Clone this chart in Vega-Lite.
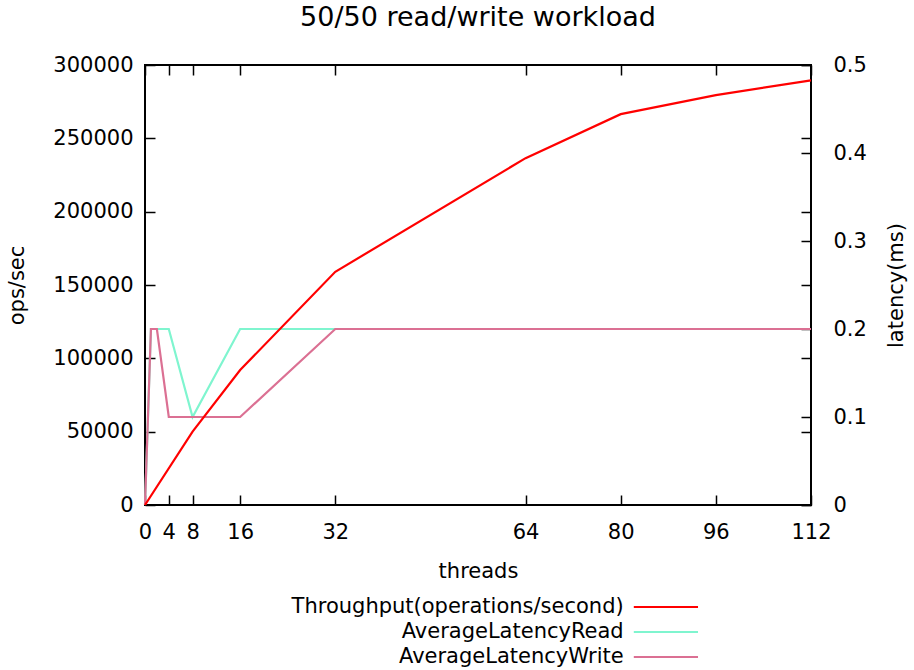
{
  "$schema": "https://vega.github.io/schema/vega-lite/v6.json",
  "width": 666,
  "height": 440,
  "padding": {"left": 6, "top": 4, "right": 5, "bottom": 5},
  "title": {"text": "50/50 read/write workload", "fontSize": 27, "font": "DejaVu Sans", "fontWeight": "normal", "color": "black", "offset": 22},
  "config": {
    "view": {"stroke": "black", "strokeWidth": 2},
    "font": "DejaVu Sans",
    "axis": {"domain": false, "grid": false, "labelFontSize": 21, "titleFontSize": 21, "titleFontWeight": "normal", "labelColor": "black", "titleColor": "black", "tickColor": "black", "tickSize": -10, "tickWidth": 1.5, "labelFont": "DejaVu Sans", "titleFont": "DejaVu Sans"}
  },
  "datasets": {
    "throughput": [
      {"threads": 0, "ops": 0},
      {"threads": 8, "ops": 50000},
      {"threads": 16, "ops": 92000},
      {"threads": 32, "ops": 159000},
      {"threads": 64, "ops": 236500},
      {"threads": 80, "ops": 266500},
      {"threads": 96, "ops": 279500},
      {"threads": 112, "ops": 289500}
    ],
    "read": [
      {"threads": 0, "latency": 0},
      {"threads": 1, "latency": 0.2},
      {"threads": 2, "latency": 0.2},
      {"threads": 4, "latency": 0.2},
      {"threads": 8, "latency": 0.1},
      {"threads": 16, "latency": 0.2},
      {"threads": 32, "latency": 0.2},
      {"threads": 64, "latency": 0.2},
      {"threads": 80, "latency": 0.2},
      {"threads": 96, "latency": 0.2},
      {"threads": 112, "latency": 0.2}
    ],
    "write": [
      {"threads": 0, "latency": 0},
      {"threads": 1, "latency": 0.2},
      {"threads": 2, "latency": 0.2},
      {"threads": 4, "latency": 0.1},
      {"threads": 8, "latency": 0.1},
      {"threads": 16, "latency": 0.1},
      {"threads": 32, "latency": 0.2},
      {"threads": 64, "latency": 0.2},
      {"threads": 80, "latency": 0.2},
      {"threads": 96, "latency": 0.2},
      {"threads": 112, "latency": 0.2}
    ],
    "legend": [
      {"series": "Throughput(operations/second)"},
      {"series": "AverageLatencyRead"},
      {"series": "AverageLatencyWrite"}
    ]
  },
  "layer": [
    {
      "data": {"name": "read"},
      "mark": {"type": "line", "strokeWidth": 2.2},
      "encoding": {
        "x": {"field": "threads", "type": "quantitative", "scale": {"domain": [0, 112], "nice": false},
              "axis": {"orient": "bottom", "values": [0, 4, 8, 16, 32, 64, 80, 96, 112], "title": "threads", "labelPadding": 26, "titlePadding": 18, "labelFlush": false}},
        "y": {"field": "latency", "type": "quantitative", "scale": {"domain": [0, 0.5], "nice": false},
              "axis": {"orient": "right", "values": [0, 0.1, 0.2, 0.3, 0.4, 0.5], "format": ".1~f", "title": "latency(ms)", "titleAngle": 270, "labelPadding": 32, "titlePadding": 40}},
        "color": {"datum": "AverageLatencyRead", "type": "nominal",
                  "scale": {"domain": ["Throughput(operations/second)", "AverageLatencyRead", "AverageLatencyWrite"], "range": ["#ff0000", "#7ff5cf", "#db7093"]}, "legend": null}
      }
    },
    {
      "data": {"name": "write"},
      "mark": {"type": "line", "strokeWidth": 2.2},
      "encoding": {
        "x": {"field": "threads", "type": "quantitative", "axis": null},
        "y": {"field": "latency", "type": "quantitative", "scale": {"domain": [0, 0.5], "nice": false}, "axis": null},
        "color": {"datum": "AverageLatencyWrite", "type": "nominal", "legend": null}
      }
    },
    {
      "data": {"name": "throughput"},
      "mark": {"type": "line", "strokeWidth": 2.2},
      "encoding": {
        "x": {"field": "threads", "type": "quantitative",
              "axis": {"orient": "top", "values": [0, 4, 8, 16, 32, 64, 80, 96, 112], "labels": false, "title": null}},
        "y": {"field": "ops", "type": "quantitative", "scale": {"domain": [0, 300000], "nice": false},
              "axis": {"orient": "left", "values": [0, 50000, 100000, 150000, 200000, 250000, 300000], "format": "d", "title": "ops/sec", "labelPadding": 22, "titlePadding": 25}},
        "color": {"datum": "Throughput(operations/second)", "type": "nominal", "legend": null}
      }
    },
    {
      "data": {"name": "throughput"},
      "mark": {"type": "line", "strokeOpacity": 0},
      "encoding": {
        "x": {"field": "threads", "type": "quantitative", "axis": null},
        "y": {"field": "ops", "type": "quantitative", "scale": {"domain": [0, 300000], "nice": false},
              "axis": {"orient": "right", "values": [0, 50000, 100000, 150000, 200000, 250000, 300000], "labels": false, "title": null}}
      }
    },
    {
      "data": {"name": "legend"},
      "mark": {"type": "rule", "strokeWidth": 2.2},
      "encoding": {
        "x": {"datum": 82.2, "type": "quantitative", "axis": null},
        "x2": {"datum": 93},
        "y": {"field": "series", "type": "nominal", "sort": null, "scale": {"type": "point", "range": [542, 592], "padding": 0}, "axis": null},
        "color": {"field": "series", "type": "nominal", "legend": null}
      }
    },
    {
      "data": {"name": "legend"},
      "mark": {"type": "text", "align": "right", "baseline": "middle", "fontSize": 21, "font": "DejaVu Sans", "color": "black"},
      "encoding": {
        "x": {"datum": 80.5, "type": "quantitative", "axis": null},
        "y": {"field": "series", "type": "nominal", "sort": null, "scale": {"type": "point", "range": [542, 592], "padding": 0}, "axis": null},
        "text": {"field": "series"}
      }
    }
  ],
  "resolve": {"scale": {"y": "independent"}, "axis": {"x": "independent", "y": "independent"}}
}
